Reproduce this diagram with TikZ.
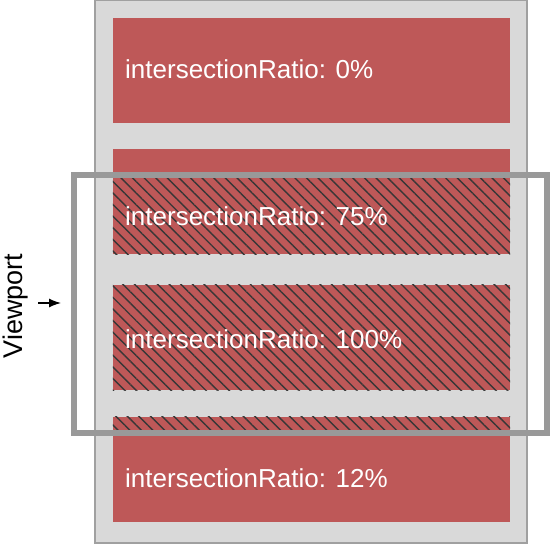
\documentclass[tikz,border=0pt]{standalone}
\usepackage{fontspec}
\setmainfont{Liberation Sans}
\newfontfamily\vpfont{Liberation Sans}
\usetikzlibrary{patterns.meta,arrows.meta}
\definecolor{boxred}{RGB}{190,88,88}
\definecolor{panelgray}{RGB}{217,217,217}
\definecolor{edgegray}{RGB}{160,160,160}
\definecolor{vpgray}{RGB}{153,153,153}
\definecolor{hatchgray}{RGB}{55,55,55}
\tikzset{
  box/.style={rectangle, fill=boxred, inner sep=0, minimum width=397, minimum height=105},
  lab/.style={anchor=base west, text=white, inner sep=0, font=\fontsize{26}{26}\selectfont},
  hatch/.style={pattern={Lines[angle=-45,distance=8.2pt,line width=1.4pt]}, pattern color=hatchgray}
}
\begin{document}
\begin{tikzpicture}[x=1pt,y=-1pt]
\useasboundingbox (0,0) rectangle (550,544);

\draw[fill=panelgray, draw=edgegray, line width=1.2] (95,0.6) rectangle (527,543);

\node[box] (R1) at (311.5,70.5) {};
\node[box] (R2) at (311.5,201.5) {};
\node[box] (R3) at (311.5,337.5) {};
\node[box] (R4) at (311.5,469.5) {};

\begin{scope}
\clip (76.5,178) rectangle (543.5,430);
\fill[hatch] (R2.north west) rectangle (R2.south east);
\fill[hatch] (R3.north west) rectangle (R3.south east);
\fill[hatch] (R4.north west) rectangle (R4.south east);
\end{scope}

\node[lab] (T1) at (125,78) {intersectionRatio: 0\%};
\node[lab] (T2) at (125,225) {intersectionRatio: 75\%};
\node[lab] (T3) at (125,348) {intersectionRatio: 100\%};
\node[lab] (T4) at (125,487) {intersectionRatio: 12\%};

\draw[vpgray, line width=6] (73.5,175) rectangle (546.5,433);

\node[rotate=90, anchor=base, inner sep=0, font=\vpfont\fontsize{27}{27}\selectfont] (VP) at (22,306) {Viewport};
\coordinate (A0) at (38,303);
\coordinate (A1) at (61,303);
\draw[line width=1.3, -{Latex[length=12pt,width=9pt]}] (A0) -- (A1);

\end{tikzpicture}
\end{document}
